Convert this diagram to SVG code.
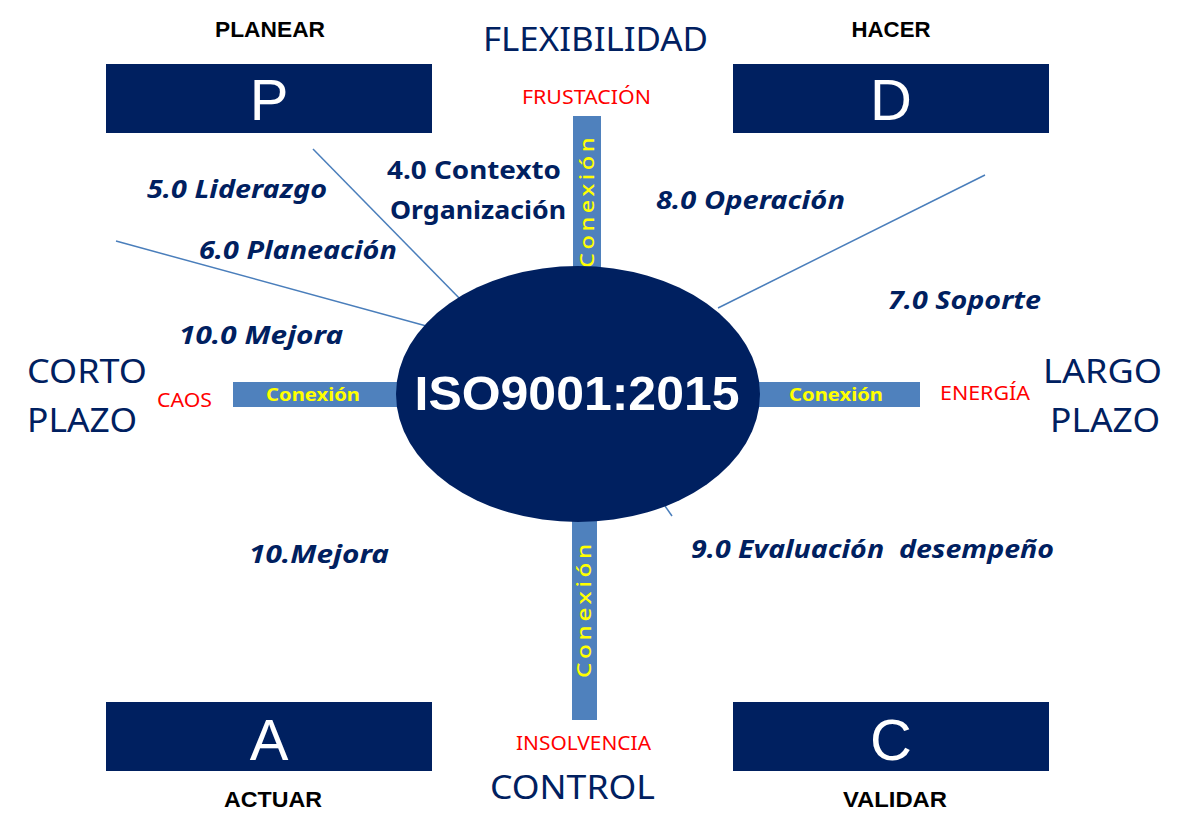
<svg xmlns="http://www.w3.org/2000/svg" width="1188" height="836" viewBox="0 0 1188 836">
<style>
.box{fill:#002060}
.bar{fill:#4F81BD}
.ln{stroke:#4A7EBB;stroke-width:1.5;fill:none}
.big{font-family:"Liberation Sans",Arial,sans-serif;fill:#fff;font-size:58px;text-anchor:middle}
.hdr{font-family:"Liberation Sans",Arial,sans-serif;font-weight:bold;font-size:22px;fill:#000;text-anchor:middle}
.axis{font-family:"Noto Sans","Open Sans",sans-serif;font-size:33px;fill:#002060}
.red{font-family:"Noto Sans","Open Sans",sans-serif;font-size:19px;fill:#FF0000}
.lbl{font-family:"Noto Sans","Open Sans",sans-serif;font-size:25px;font-weight:bold;font-style:italic;fill:#002060}
.lblr{font-family:"Noto Sans","Open Sans",sans-serif;font-size:25px;font-weight:bold;fill:#002060}
.cx{font-family:"Noto Sans","Open Sans",sans-serif;font-size:17px;font-weight:bold;fill:#FFFF00;text-anchor:middle}
.cxv{font-family:"Noto Sans","Open Sans",sans-serif;font-size:20px;font-weight:500;fill:#FFFF00;text-anchor:middle;letter-spacing:3px}
</style>
<g id="connectors">
<line class="ln" x1="313" y1="149" x2="463" y2="302"/>
<line class="ln" x1="116" y1="241" x2="430" y2="327"/>
<line class="ln" x1="985" y1="175" x2="718" y2="308"/>
<line class="ln" x1="665" y1="506" x2="672" y2="516"/>
</g>
<g id="bar-top"><rect class="bar" x="573" y="116" width="28" height="158"/>
<text class="cxv" transform="translate(594,201) rotate(-90)" textLength="134" lengthAdjust="spacingAndGlyphs">Conexión</text></g>
<g id="bar-bottom"><rect class="bar" x="572" y="518" width="25" height="202"/>
<text class="cxv" transform="translate(591,609) rotate(-90)" textLength="138" lengthAdjust="spacingAndGlyphs">Conexión</text></g>
<g id="bar-left"><rect class="bar" x="233" y="382" width="170" height="25"/>
<text class="cx" x="313" y="401" textLength="94" lengthAdjust="spacingAndGlyphs">Conexión</text></g>
<g id="bar-right"><rect class="bar" x="752" y="382" width="168" height="25"/>
<text class="cx" x="836" y="401" textLength="94" lengthAdjust="spacingAndGlyphs">Conexión</text></g>
<g id="center"><ellipse class="box" cx="578" cy="394" rx="182" ry="128"/>
<text x="577" y="410" font-family="Liberation Sans,Arial,sans-serif" font-weight="bold" font-size="49" fill="#fff" text-anchor="middle" textLength="325" lengthAdjust="spacingAndGlyphs">ISO9001:2015</text></g>
<g id="P"><rect class="box" x="106" y="64" width="326" height="69"/><text class="big" x="269" y="120">P</text><text class="hdr" x="270" y="37" textLength="110" lengthAdjust="spacingAndGlyphs">PLANEAR</text></g>
<g id="D"><rect class="box" x="733" y="64" width="316" height="69"/><text class="big" x="891" y="120">D</text><text class="hdr" x="891" y="37" textLength="79" lengthAdjust="spacingAndGlyphs">HACER</text></g>
<g id="A"><rect class="box" x="106" y="702" width="326" height="69"/><text class="big" x="269" y="760">A</text><text class="hdr" x="273" y="807" textLength="98" lengthAdjust="spacingAndGlyphs">ACTUAR</text></g>
<g id="C"><rect class="box" x="733" y="702" width="316" height="69"/><text class="big" x="891" y="760">C</text><text class="hdr" x="895" y="807" textLength="104" lengthAdjust="spacingAndGlyphs">VALIDAR</text></g>
<g id="axis-labels">
<text class="axis" x="483" y="51" textLength="225" lengthAdjust="spacingAndGlyphs">FLEXIBILIDAD</text>
<text class="red" x="522" y="104" textLength="129" lengthAdjust="spacingAndGlyphs">FRUSTACIÓN</text>
<text class="axis" x="490" y="799" textLength="165" lengthAdjust="spacingAndGlyphs">CONTROL</text>
<text class="red" x="516" y="750" textLength="135" lengthAdjust="spacingAndGlyphs">INSOLVENCIA</text>
<text class="axis" x="27" y="383" textLength="120" lengthAdjust="spacingAndGlyphs">CORTO</text>
<text class="axis" x="27" y="432" textLength="110" lengthAdjust="spacingAndGlyphs">PLAZO</text>
<text class="red" x="157" y="407" textLength="55" lengthAdjust="spacingAndGlyphs">CAOS</text>
<text class="axis" x="1043" y="383" textLength="119" lengthAdjust="spacingAndGlyphs">LARGO</text>
<text class="axis" x="1050" y="432" textLength="110" lengthAdjust="spacingAndGlyphs">PLAZO</text>
<text class="red" x="940" y="400" textLength="90" lengthAdjust="spacingAndGlyphs">ENERGÍA</text>
</g>
<g id="clauses">
<text class="lbl" x="147" y="198" textLength="180" lengthAdjust="spacingAndGlyphs">5.0 Liderazgo</text>
<text class="lblr" x="387" y="179" textLength="174" lengthAdjust="spacingAndGlyphs">4.0 Contexto</text>
<text class="lblr" x="390" y="219" textLength="176" lengthAdjust="spacingAndGlyphs">Organización</text>
<text class="lbl" x="199" y="259" textLength="198" lengthAdjust="spacingAndGlyphs">6.0 Planeación</text>
<text class="lbl" x="179" y="344" textLength="164" lengthAdjust="spacingAndGlyphs">10.0 Mejora</text>
<text class="lbl" x="656" y="209" textLength="189" lengthAdjust="spacingAndGlyphs">8.0 Operación</text>
<text class="lbl" x="888" y="309" textLength="153" lengthAdjust="spacingAndGlyphs">7.0 Soporte</text>
<text class="lbl" x="691" y="558" textLength="363" lengthAdjust="spacingAndGlyphs" xml:space="preserve">9.0 Evaluación  desempeño</text>
<text class="lbl" x="249" y="563" textLength="140" lengthAdjust="spacingAndGlyphs">10.Mejora</text>
</g>
</svg>
